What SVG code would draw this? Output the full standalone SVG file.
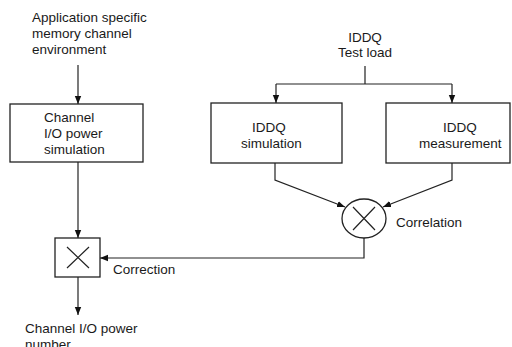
<svg xmlns="http://www.w3.org/2000/svg" width="512" height="347" viewBox="0 0 512 347">
<defs>
<marker id="ah" viewBox="0 0 8 8" refX="8" refY="4" markerWidth="8" markerHeight="8" markerUnits="userSpaceOnUse" orient="auto">
<path d="M0,0.8 L8,4 L0,7.2 Z" fill="#111"/>
</marker>
<style>
text{font-family:"Liberation Sans",Arial,sans-serif;font-size:13.5px;fill:#1a1a1a}
.box{fill:#fff;stroke:#222;stroke-width:1.3}
.ln{fill:none;stroke:#222;stroke-width:1.2}
.arr{fill:none;stroke:#222;stroke-width:1.2;marker-end:url(#ah)}
</style>
</defs>
<rect width="512" height="347" fill="#fff"/>
<g id="env">
<text x="32" y="22">Application specific</text>
<text x="32" y="38">memory channel</text>
<text x="32" y="54">environment</text>
</g>
<g id="testload">
<text x="365" y="42" text-anchor="middle">IDDQ</text>
<text x="365" y="57" text-anchor="middle">Test load</text>
</g>
<g id="chsim">
<rect class="box" x="10" y="104" width="133" height="58"/>
<text x="44" y="122">Channel</text>
<text x="44" y="138">I/O power</text>
<text x="44" y="154">simulation</text>
</g>
<g id="iddqsim">
<rect class="box" x="211" y="103" width="131" height="60"/>
<text x="252" y="132">IDDQ</text>
<text x="241" y="148">simulation</text>
</g>
<g id="iddqmeas">
<rect class="box" x="386" y="103" width="124" height="60"/>
<text x="443" y="132">IDDQ</text>
<text x="419" y="148">measurement</text>
</g>
<g id="corr">
<ellipse class="box" cx="364" cy="218.5" rx="22" ry="19.5"/>
<path class="ln" d="M353,207 L375,230 M375,207 L353,230"/>
<text x="396" y="227">Correlation</text>
</g>
<g id="correction">
<rect class="box" x="55" y="238" width="45" height="39"/>
<path class="ln" d="M67,247 L89,268 M89,247 L67,268"/>
<text x="113" y="274">Correction</text>
</g>
<g id="output">
<text x="25" y="333">Channel I/O power</text>
<text x="25" y="349">number</text>
</g>
<g id="connectors">
<line class="arr" x1="78" y1="65" x2="78" y2="104"/>
<path class="ln" d="M365,66 V84 M276,84 H452"/>
<line class="arr" x1="276" y1="84" x2="276" y2="103"/>
<line class="arr" x1="452" y1="84" x2="452" y2="103"/>
<path class="arr" d="M275,163 V180 L345,207"/>
<path class="arr" d="M452,163 V180 L383,207"/>
<path class="arr" d="M364,238 V258 H100"/>
<line class="arr" x1="78" y1="162" x2="78" y2="238"/>
<line class="arr" x1="78" y1="277" x2="78" y2="315"/>
</g>
</svg>
